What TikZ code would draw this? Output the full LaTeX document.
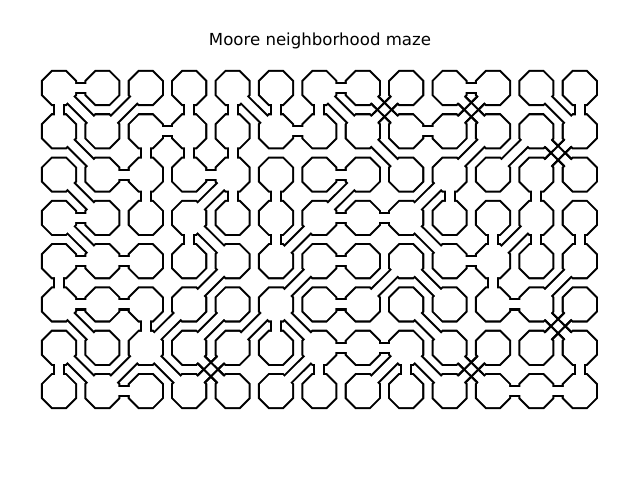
\documentclass[tikz,border=0pt]{standalone}
\usepackage{fontspec}
\setmainfont{DejaVu Sans}
\usetikzlibrary{calc}
% corridors, as column/row of the left (or upper) cell
\newcommand{\mazeH}{0/0,6/0,9/0,2/1,5/1,8/1,1/2,3/2,6/2,0/3,6/3,7/3,0/4,1/4,6/4,9/4,0/5,1/5,6/5,10/5,6/6,7/6,1/7,10/7,11/7}
\newcommand{\mazeV}{0/0,3/0,4/0,5/0,6/0,12/0,2/1,3/1,4/1,2/2,4/2,5/2,9/2,11/2,3/3,5/3,10/3,11/3,12/3,0/4,10/4,2/5,5/5,0/6,6/6,8/6,12/6}
\newcommand{\mazeD}{0/0,4/0,6/0,7/0,9/0,11/0,0/1,7/1,11/1,0/2,0/3,3/3,8/3,8/4,0/5,5/5,8/5,11/5,0/6,2/6,3/6,8/6,9/6}
\newcommand{\mazeA}{1/0,7/0,9/0,9/1,10/1,11/1,3/2,6/2,8/2,5/3,10/3,3/4,5/4,7/4,11/4,2/5,3/5,4/5,11/5,1/6,3/6,5/6,7/6,9/6}
\newcommand{\mazeX}{7/0,9/0,11/1,11/5,3/6,9/6}
\newcommand{\mazerooms}[1]{%
  \foreach \c in {0,...,12}
    \foreach \r in {0,...,7}
      \path[#1,shift={(c-\c-\r)}] (-6.63,-16) -- (6.63,-16) -- (16,-6.63) -- (16,6.63)
        -- (6.63,16) -- (-6.63,16) -- (-16,6.63) -- (-16,-6.63) -- cycle;
  \foreach \c/\r in \mazeH {
    \pgfmathtruncatemacro{\n}{\c+1}
    \path[#1] ($(c-\c-\r)+(0,-4)$) rectangle ($(c-\n-\r)+(0,4)$);
  }
  \foreach \c/\r in \mazeV {
    \pgfmathtruncatemacro{\n}{\r+1}
    \path[#1] ($(c-\c-\r)+(-4,0)$) rectangle ($(c-\c-\n)+(4,0)$);
  }
  \foreach \c/\r in \mazeD {
    \pgfmathtruncatemacro{\n}{\c+1}\pgfmathtruncatemacro{\m}{\r+1}
    \path[#1] ($(c-\c-\r)+(2.83,-2.83)$) -- ($(c-\n-\m)+(2.83,-2.83)$)
      -- ($(c-\n-\m)+(-2.83,2.83)$) -- ($(c-\c-\r)+(-2.83,2.83)$) -- cycle;
  }
  \foreach \c/\r in \mazeA {
    \pgfmathtruncatemacro{\n}{\c+1}\pgfmathtruncatemacro{\m}{\r+1}
    \path[#1] ($(c-\n-\r)+(2.83,2.83)$) -- ($(c-\c-\m)+(2.83,2.83)$)
      -- ($(c-\c-\m)+(-2.83,-2.83)$) -- ($(c-\n-\r)+(-2.83,-2.83)$) -- cycle;
  }
}

\begin{document}
\begin{tikzpicture}[x=0.0254cm,y=-0.0254cm,
  wallpass/.style={draw=black,line width=3pt},
  roompass/.style={fill=white},
  bridge/.style={draw=black,line width=1.5pt}]
\useasboundingbox (0,0) rectangle (640,480);
\node (title) at (320,41) {\fontsize{12}{14}\selectfont Moore neighborhood maze};
% cell centres
\foreach \c in {0,...,12}
  \foreach \r in {0,...,7}
    \coordinate (c-\c-\r) at ({59+43.4*\c},{88+43.3*\r});
% outline of rooms and corridors
\mazerooms{wallpass}
\mazerooms{roompass}
% crossing corridors keep both walls
\foreach \c/\r in \mazeX {
  \pgfmathtruncatemacro{\n}{\c+1}\pgfmathtruncatemacro{\m}{\r+1}
  \draw[bridge] ($(c-\c-\r)+(15.56,8.48)$) -- ($(c-\n-\m)+(-8.48,-15.56)$);
  \draw[bridge] ($(c-\c-\r)+(8.48,15.56)$) -- ($(c-\n-\m)+(-15.56,-8.48)$);
  \draw[bridge] ($(c-\n-\r)+(-15.56,8.48)$) -- ($(c-\c-\m)+(8.48,-15.56)$);
  \draw[bridge] ($(c-\n-\r)+(-8.48,15.56)$) -- ($(c-\c-\m)+(15.56,-8.48)$);
}
\end{tikzpicture}
\end{document}
